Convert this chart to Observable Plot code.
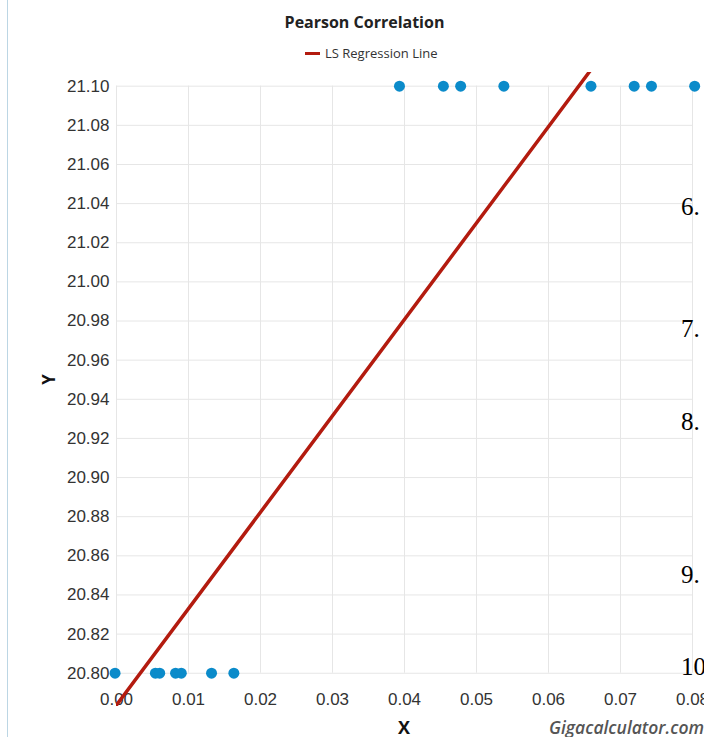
<!DOCTYPE html>
<html>
<head>
<meta charset="utf-8">
<script src="https://cdn.jsdelivr.net/npm/d3@7"></script>
<script src="https://cdn.jsdelivr.net/npm/@observablehq/plot@0.6"></script>
<style>
  html, body { margin: 0; padding: 0; background: #fff; }
  #page { position: relative; width: 704px; height: 737px; overflow: hidden; background: #fff; }
  .abs { position: absolute; white-space: nowrap; }
  #border { position: absolute; left: 7px; top: 0; width: 1px; height: 737px; background: #bcd6e4; }
  #title { left: 0; width: 729px; top: 11px; text-align: center; font: 700 16px "Open Sans", sans-serif; color: #222; }
  #legend { left: 305px; top: 44px; font: 13px "Open Sans", sans-serif; color: #333; display: flex; align-items: center; }
  #legend .sw { display: inline-block; width: 15px; height: 3px; background: #b31b0f; margin-right: 5px; }
  #chart { position: absolute; left: 0; top: 62px; }
  #xlabel { left: 394px; width: 20px; text-align: center; top: 715px; font: 700 18px "Open Sans", sans-serif; color: #111; }
  #ylabel { left: 36px; top: 368px; width: 24px; text-align: center; transform: rotate(-90deg); font: 700 17px "Open Sans", sans-serif; color: #111; }
  #brand { right: 0px; top: 715px; font: italic 600 17.5px "Open Sans", sans-serif; color: #555; }
  .serif { font: 25px "Liberation Serif", "Times New Roman", serif; color: #000; left: 681px; }
</style>
</head>
<body>
<div id="page">
  <div id="border"></div>
  <div id="title" class="abs">Pearson Correlation</div>
  <div id="legend" class="abs"><span class="sw"></span><span>LS Regression Line</span></div>
  <div id="chart"></div>
  <div id="xlabel" class="abs">X</div>
  <div id="ylabel" class="abs">Y</div>
  <div id="brand" class="abs">Gigacalculator.com</div>
  <div class="abs serif" style="top:193px">6.</div>
  <div class="abs serif" style="top:315px">7.</div>
  <div class="abs serif" style="top:408px">8.</div>
  <div class="abs serif" style="top:561px">9.</div>
  <div class="abs serif" style="top:653px">10</div>
</div>
<script>
// Data
const xValues = [-0.0002, 0.0054, 0.0060, 0.0082, 0.0090, 0.0132, 0.0163,
                 0.0393, 0.0454, 0.0478, 0.0538, 0.0659, 0.0719, 0.0743, 0.0803];
const yValues = [20.80, 20.80, 20.80, 20.80, 20.80, 20.80, 20.80,
                 21.10, 21.10, 21.10, 21.10, 21.10, 21.10, 21.10, 21.10];
const xTicks = [0, 0.01, 0.02, 0.03, 0.04, 0.05, 0.06, 0.07, 0.08];
const yTicks = [20.80, 20.82, 20.84, 20.86, 20.88, 20.90, 20.92, 20.94, 20.96, 20.98, 21.00, 21.02, 21.04, 21.06, 21.08, 21.10];

const points = xValues.map((x, i) => ({x, y: yValues[i]}));
const f2 = d3.format(".2f");

const chart = Plot.plot({
  width: 704,
  height: 675,
  marginLeft: 116,
  marginRight: 12,
  marginTop: 10,
  marginBottom: 31,
  style: {fontFamily: "'Liberation Sans', Arial, sans-serif", fontSize: "17px", color: "#333", background: "transparent", overflow: "visible"},
  x: {domain: [0, 0.08], axis: null},
  y: {domain: [20.783, 21.107], axis: null},
  marks: [
    Plot.ruleY(yTicks, {y: d => d, stroke: "#e6e6e6", strokeWidth: 1}),
    Plot.ruleX(xTicks, {x: d => d, y1: 20.80, y2: 21.10, stroke: "#e6e6e6", strokeWidth: 1}),
    Plot.axisY(yTicks, {tickSize: 0, tickPadding: 7, tickFormat: f2, fill: "#333", fontSize: 17, label: null}),
    Plot.text(xTicks, {x: d => d, y: 20.80, dy: 26, text: d => f2(d), fill: "#333", fontSize: 17}),
    Plot.dot(points, {x: "x", y: "y", r: 5.5, fill: "#0b8bca", stroke: "none"}),
    Plot.linearRegressionY(points, {x: "x", y: "y", ci: 0, stroke: "#b31b0f", strokeWidth: 3.5, clip: true})
  ]
});
document.getElementById("chart").appendChild(chart);
</script>
</body>
</html>
